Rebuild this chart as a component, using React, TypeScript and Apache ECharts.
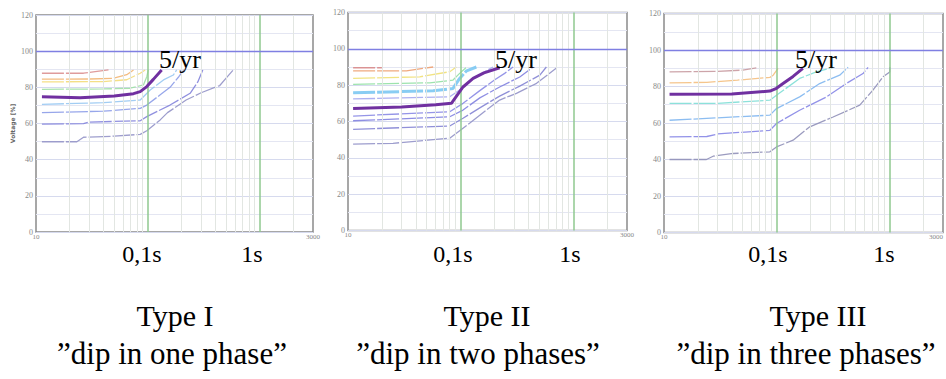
import React, { useEffect, useRef } from "react";
import * as echarts from "echarts";

// ---- axes ----
const durationMin = 10; // ms
const durationMax = 3000; // ms
const voltageMin = 0;
const voltageMax = 120;
const voltageStep = 20;
const minorDurations = [20, 30, 40, 50, 60, 70, 80, 90, 200, 300, 400, 500, 600, 700, 800, 900, 2000];
const majorDurations = [100, 1000];
const referenceVoltage = 100;
const shownDurationLabels = [10, 3000];

// ---- Type I : dip in one phase (duration ms, residual voltage %) ----
const t1_88 = [[11.3, 87.8], [26.6, 87.8], [33.8, 88.7], [44.5, 89.6]];
const t1_84 = [[11.3, 84.5], [30, 84.6], [49.3, 85], [64.8, 87], [74.5, 89.6]];
const t1_83 = [[11.3, 83], [40, 83.2], [64.8, 84.2], [85.5, 87.8], [94.6, 89.6]];
const t1_79 = [[11.3, 78.9], [40, 79.1], [69.4, 79.5], [91.4, 81.3], [97.9, 85.9], [101, 89.6]];
const t1_5yr = [[11.3, 74.8], [24.8, 74.3], [50, 75.2], [74.5, 76.5], [85.5, 77.6], [97.9, 80.4], [112, 84.4], [133, 89.6]];
const t1_70 = [[11.3, 70.6], [40, 71.5], [85.5, 73], [105, 78.5], [138, 84.1], [169, 86.8], [181, 89.6]];
const t1_66 = [[11.3, 66], [40, 66.8], [85.5, 68.4], [97.9, 70.2], [130, 76], [158, 80], [190, 86], [210, 89.6]];
const t1_60 = [[11.3, 59.7], [26.6, 59.9], [30, 60.8], [85.5, 61.5], [97.9, 63.8], [158, 70.2], [239, 76.7], [280, 83], [310, 89.6]];
const t1_50 = [[11.3, 49.9], [23.2, 49.9], [26.6, 52.4], [50, 53], [85.5, 54], [97.9, 56], [129, 62], [150, 66], [220, 73], [300, 77], [440, 81], [508, 85.5], [580, 89.6]];

// ---- Type II : dip in two phases ----
const t2_90 = [[11.1, 89.6], [20, 89.6]];
const t2_88 = [[11.1, 87.9], [33, 87.9], [46.3, 89.2], [57, 90]];
const t2_84 = [[11.1, 83.7], [43.3, 84.6], [80, 87.4], [91.6, 90]];
const t2_81 = [[11.1, 80.4], [53.2, 81.3], [85.6, 82.8], [98, 86.5], [113, 90]];
const t2_76 = [[11.1, 75.8], [57, 76.9], [85.6, 78.2], [98, 83.7], [113, 87.9], [138, 90]];
const t2_72 = [[11.1, 72.4], [80, 73.6], [98, 77.3], [129, 83.7], [169, 87.9], [194, 90]];
const t2_5yr = [[11.1, 67.2], [30, 68], [60, 69.2], [82.8, 70], [105, 79], [129, 83.7], [161, 86.8], [222, 89.6]];
const t2_64 = [[11.1, 63], [80, 65.4], [105, 70], [148, 77], [201, 83], [246, 86.5], [292, 90]];
const t2_61 = [[11.1, 60.4], [80, 62.6], [105, 66.3], [148, 73], [222, 79], [335, 84.5], [441, 90]];
const t2_56 = [[11.1, 55.7], [80, 57.5], [105, 61.8], [148, 67.5], [222, 74], [335, 79.5], [505, 85.5], [577, 90]];
const t2_48 = [[11.1, 47.6], [25.1, 48], [80, 50.8], [120, 59], [169, 66.3], [222, 71.8], [313, 75.5], [472, 81], [709, 89.5]];

// ---- Type III : dip in three phases ----
const t3_88 = [[11.2, 88], [30, 88.3], [50, 89], [66, 90.2]];
const t3_82 = [[11.2, 82], [24, 82.3], [45, 83.5], [87.2, 85], [93.2, 86.2], [103, 89.9]];
const t3_5yr = [[11.2, 75.8], [40, 75.9], [87.2, 77.5], [99.7, 79], [114, 81.6], [140, 85.5], [171, 89.9]];
const t3_70 = [[11.2, 70.7], [30, 70.8], [87.2, 72.5], [99.7, 75.2], [160, 84.4], [225, 88], [317, 90.5]];
const t3_61 = [[11.2, 61.5], [87.2, 64.3], [99.7, 67.9], [160, 74.3], [241, 81.6], [363, 86.2], [431, 90.5]];
const t3_52 = [[11.2, 52.4], [24, 52.6], [30, 54], [87.2, 56], [99.7, 59.7], [160, 67], [277, 74.3], [415, 81.6], [585, 87.1], [648, 90.5]];
const t3_40 = [[11.2, 40], [23.8, 40], [27.3, 41.8], [41.1, 43.3], [87.2, 44.2], [99.7, 46.9], [140, 50.6], [197, 57.9], [317, 63.3], [547, 69.8], [716, 78], [882, 85.3], [1010, 88], [1012, 90.5]];

// ---- texts ----
const panelTitles = ["Type I", "Type II", "Type III"];
const panelSubtitles = ["\u201ddip in one phase\u201d", "\u201ddip in two phases\u201d", "\u201ddip in three phases\u201d"];
const curveLabel = "5/yr";
const timeLabels = ["0,1s", "1s"];
const yAxisName = "Voltage [%]";

const SERIF = '"Liberation Serif", "Times New Roman", serif';
const PURPLE = "#7030a0";

type Curve = { data: number[][]; color: string; width?: number; solid?: boolean };

const panels: { curves: Curve[] }[] = [
  {
    curves: [
      { data: t1_88, color: "#dc9090" },
      { data: t1_84, color: "#f2b572" },
      { data: t1_83, color: "#f3dc7a" },
      { data: t1_79, color: "#9ee0a4" },
      { data: t1_70, color: "#98c8f2" },
      { data: t1_66, color: "#8c9ce8" },
      { data: t1_60, color: "#8484dc" },
      { data: t1_50, color: "#9494c8" },
      { data: t1_5yr, color: PURPLE, width: 3, solid: true },
    ],
  },
  {
    curves: [
      { data: t2_90, color: "#d88a8a" },
      { data: t2_88, color: "#eda070" },
      { data: t2_84, color: "#f0e074" },
      { data: t2_81, color: "#92e0a4" },
      { data: t2_76, color: "#7cc8f2", width: 3 },
      { data: t2_72, color: "#a4a8f0" },
      { data: t2_64, color: "#8a8ae4" },
      { data: t2_61, color: "#8282e0" },
      { data: t2_56, color: "#8484d4" },
      { data: t2_48, color: "#9292c8" },
      { data: t2_5yr, color: PURPLE, width: 3, solid: true },
    ],
  },
  {
    curves: [
      { data: t3_88, color: "#c89aa0" },
      { data: t3_82, color: "#f4bf80" },
      { data: t3_70, color: "#7fded6" },
      { data: t3_61, color: "#80b6f0" },
      { data: t3_52, color: "#8686e6" },
      { data: t3_40, color: "#9090b8" },
      { data: t3_5yr, color: PURPLE, width: 3, solid: true },
    ],
  },
];

const gridRects = [
  { left: 36, top: 15, width: 277, height: 217 },
  { left: 348, top: 12.5, width: 279, height: 218 },
  { left: 664, top: 13.5, width: 279, height: 219 },
];

const timeLabelX = [
  [142, 252],
  [453, 570],
  [768, 884],
];
const curveLabelX = [180, 516, 816];
const titleX = [175, 487, 818];
const subtitleX = [172, 478, 806];

export default function App() {
  const ref = useRef<HTMLDivElement>(null);

  useEffect(() => {
    if (!ref.current) return;
    const chart = echarts.init(ref.current, undefined, { renderer: "svg" });

    const grid = gridRects.map((r) => ({
      ...r,
      show: true,
      borderColor: "#8a8a8a",
      borderWidth: 1.5,
      backgroundColor: "transparent",
      containLabel: false,
      outerBoundsMode: "none",
    }));

    const xAxis = gridRects.map((_, i) => ({
      type: "log",
      logBase: 10,
      gridIndex: i,
      min: durationMin,
      max: durationMax,
      axisLine: { show: false },
      axisTick: { show: false },
      axisLabel: {
        show: true,
        fontSize: 7,
        color: "#888",
        fontFamily: SERIF,
        margin: 1,
        showMinLabel: true,
        showMaxLabel: true,
        alignMaxLabel: i === 2 ? "right" : "center",
        formatter: (v: number) => {
          const r = Math.round(v);
          return shownDurationLabels.includes(r) ? String(r) : "";
        },
      },
      splitLine: { show: false },
      minorSplitLine: { show: false },
    }));

    const yAxis = gridRects.map((_, i) => ({
      type: "value",
      gridIndex: i,
      min: voltageMin,
      max: voltageMax,
      interval: voltageStep,
      name: i === 0 ? yAxisName : "",
      nameLocation: "middle",
      nameGap: 21,
      nameTextStyle: { fontSize: 6, color: "#666", fontWeight: "bold", fontFamily: "DejaVu Sans" },
      axisLine: { show: false },
      axisTick: { show: false },
      axisLabel: { fontSize: 8, color: "#888", fontFamily: SERIF, margin: 3 },
      splitLine: { show: true, lineStyle: { color: "#d6daee", width: 1 } },
      minorTick: { show: false, splitNumber: 2 },
      minorSplitLine: { show: true, lineStyle: { color: "#e4e6f2", width: 1 } },
    }));

    const series: any[] = [];
    panels.forEach((p, i) => {
      series.push({
        type: "line",
        xAxisIndex: i,
        yAxisIndex: i,
        data: [],
        silent: true,
        z: 1,
        markLine: {
          silent: true,
          symbol: "none",
          label: { show: false },
          animation: false,
          lineStyle: { color: "#e2e6e2", width: 1, type: "solid" },
          data: minorDurations.map((d) => ({ xAxis: d })),
        },
      });
      series.push({
        type: "line",
        xAxisIndex: i,
        yAxisIndex: i,
        data: [],
        silent: true,
        z: 2,
        markLine: {
          silent: true,
          symbol: "none",
          label: { show: false },
          animation: false,
          lineStyle: { color: "#8fc88f", width: 1.5, type: "solid" },
          data: majorDurations.map((d) => ({ xAxis: d })),
        },
      });
      series.push({
        type: "line",
        xAxisIndex: i,
        yAxisIndex: i,
        data: [],
        silent: true,
        z: 2,
        markLine: {
          silent: true,
          symbol: "none",
          label: { show: false },
          animation: false,
          lineStyle: { color: "#7f7fe2", width: 1.3, type: "solid" },
          data: [{ yAxis: referenceVoltage }],
        },
      });
      p.curves.forEach((c) => {
        series.push({
          type: "line",
          xAxisIndex: i,
          yAxisIndex: i,
          data: c.data,
          showSymbol: false,
          symbol: "none",
          silent: true,
          z: c.solid ? 5 : 3,
          lineStyle: {
            color: c.color,
            width: c.width ?? 1.3,
            type: c.solid ? "solid" : [22, 2],
            opacity: c.solid ? 1 : 0.9,
          },
        });
      });
    });

    const graphic: any[] = [];
    const txt = (text: string, x: number, y: number, size: number) => ({
      type: "text",
      x,
      y,
      silent: true,
      z: 100,
      style: {
        text,
        fill: "#000",
        font: `${size}px ${SERIF}`,
        align: "center",
        verticalAlign: "middle",
      },
    });
    timeLabelX.forEach(([a, b]) => {
      graphic.push(txt(timeLabels[0], a, 253.5, 24));
      graphic.push(txt(timeLabels[1], b, 253.5, 24));
    });
    curveLabelX.forEach((x) => graphic.push(txt(curveLabel, x, 59, 26)));
    titleX.forEach((x, i) => {
      graphic.push(txt(panelTitles[i], x, 315, 30));
      graphic.push(txt(panelSubtitles[i], subtitleX[i], 353, 31));
    });

    chart.setOption({
      animation: false,
      backgroundColor: "#fff",
      grid,
      xAxis,
      yAxis,
      series,
      graphic,
    });

    return () => chart.dispose();
  }, []);

  return (
    <div
      ref={ref}
      style={{ position: "fixed", left: 0, top: 0, width: 946, height: 379, background: "#fff" }}
    />
  );
}
